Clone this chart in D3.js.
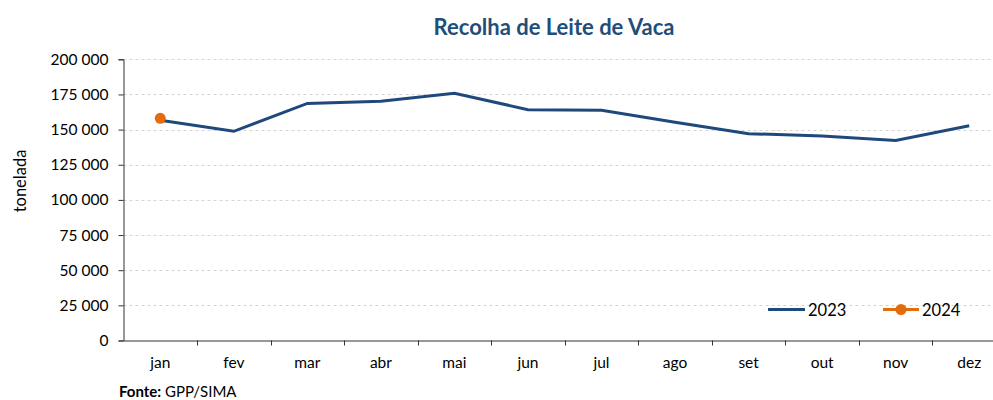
<!DOCTYPE html>
<html>
<head>
<meta charset="utf-8">
<script src="https://cdn.jsdelivr.net/npm/d3@7"></script>
<style>
  body { margin: 0; background: #fff; }
  text { font-family: Lato, "Open Sans", sans-serif; }
</style>
</head>
<body>
<div id="chart"></div>
<script>
const months = ["jan", "fev", "mar", "abr", "mai", "jun", "jul", "ago", "set", "out", "nov", "dez"];
const values2023 = [156600, 148800, 168600, 170200, 175900, 164200, 163700, 155300, 147100, 145500, 142200, 152800];
const values2024 = [158000];
const yTicks = [0, 25000, 50000, 75000, 100000, 125000, 150000, 175000, 200000];

const width = 993;
const height = 400;
const blue = "#1f497d";
const orange = "#e46c0a";

const svg = d3.select("#chart")
  .append("svg")
  .attr("width", width)
  .attr("height", height);

const x = d3.scaleBand().domain(months).range([123.5, 1006]);
const y = d3.scaleLinear().domain([0, 200000]).range([340.5, 59.3]);

const fmt = (v) => d3.format(",")(v).replace(/,/g, " ");

// grid
svg.append("g")
  .selectAll("line")
  .data(yTicks.filter((d) => d > 0))
  .enter()
  .append("line")
  .attr("x1", 123.5)
  .attr("x2", width)
  .attr("y1", (d) => Math.round(y(d)) + 0.5)
  .attr("y2", (d) => Math.round(y(d)) + 0.5)
  .attr("stroke", "#d4d4d4")
  .attr("stroke-dasharray", "3,3");

// y axis
const yAxis = svg.append("g")
  .attr("transform", "translate(123.5,0)")
  .call(d3.axisLeft(y).tickValues(yTicks).tickFormat(fmt).tickSize(5).tickPadding(10));
yAxis.select(".domain").attr("stroke", "#333");
yAxis.selectAll(".tick line").attr("stroke", "#333");
yAxis.selectAll("text").attr("font-size", 15.5).attr("fill", "#000");

// x axis
const xAxis = svg.append("g")
  .attr("transform", "translate(0,340.5)")
  .call(d3.axisBottom(x).tickSize(0).tickPadding(16));
xAxis.select(".domain").attr("stroke", "#333");
xAxis.selectAll("text").attr("font-size", 15.5).attr("fill", "#000");
xAxis.selectAll(".bound")
  .data(months.slice(1))
  .enter()
  .append("line")
  .attr("class", "bound")
  .attr("x1", (d) => Math.round(x(d)) + 0.5)
  .attr("x2", (d) => Math.round(x(d)) + 0.5)
  .attr("y1", 0)
  .attr("y2", 5)
  .attr("stroke", "#333");

const cx = (d, i) => x(months[i]) + x.bandwidth() / 2;

// 2023 line
const line = d3.line().x(cx).y((d) => y(d));
svg.append("path")
  .datum(values2023)
  .attr("d", line)
  .attr("fill", "none")
  .attr("stroke", blue)
  .attr("stroke-width", 3);

// 2024 points
svg.append("path")
  .datum(values2024)
  .attr("d", line)
  .attr("fill", "none")
  .attr("stroke", orange)
  .attr("stroke-width", 3);
svg.selectAll(".p2024")
  .data(values2024)
  .enter()
  .append("circle")
  .attr("class", "p2024")
  .attr("cx", cx)
  .attr("cy", (d) => y(d))
  .attr("r", 5.5)
  .attr("fill", orange);

// title
svg.append("text")
  .attr("x", 554)
  .attr("y", 35)
  .attr("text-anchor", "middle")
  .attr("font-size", 22)
  .attr("font-weight", "bold")
  .attr("fill", "#1f4e79")
  .text("Recolha de Leite de Vaca");

// y label
svg.append("text")
  .attr("transform", "translate(26,181) rotate(-90)")
  .attr("text-anchor", "middle")
  .attr("font-size", 16.5)
  .text("tonelada");

// legend
const legend = svg.append("g").attr("transform", "translate(768,309.5)");
legend.append("line").attr("x1", 0).attr("x2", 37).attr("stroke", blue).attr("stroke-width", 3);
legend.append("text").attr("x", 40).attr("y", 6).attr("font-size", 16.5).text("2023");
legend.append("line").attr("x1", 115).attr("x2", 151).attr("stroke", orange).attr("stroke-width", 3);
legend.append("circle").attr("cx", 133).attr("r", 5.5).attr("fill", orange);
legend.append("text").attr("x", 154).attr("y", 6).attr("font-size", 16.5).text("2024");

// source
const src = svg.append("text").attr("x", 119).attr("y", 397).attr("font-size", 15);
src.append("tspan").attr("font-weight", "bold").text("Fonte:");
src.append("tspan").text(" GPP/SIMA");
</script>
</body>
</html>
